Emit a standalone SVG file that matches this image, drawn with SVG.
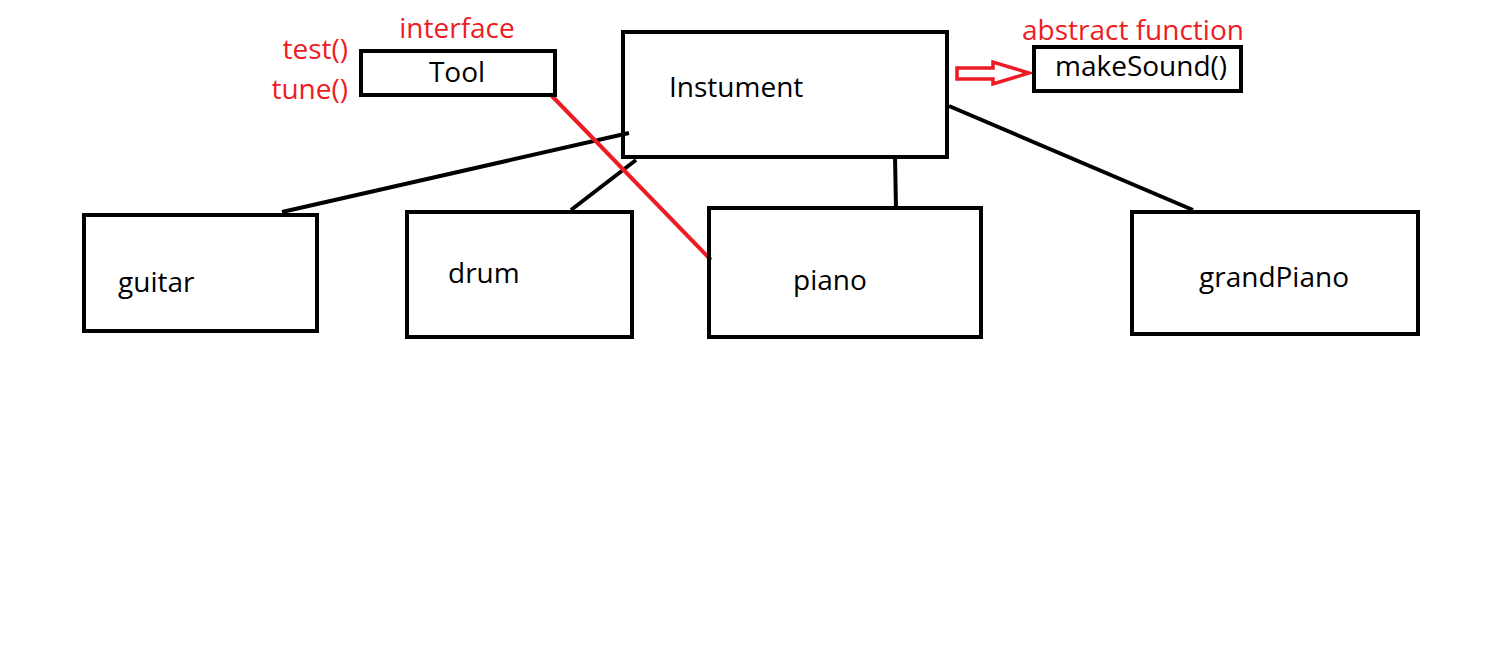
<svg xmlns="http://www.w3.org/2000/svg" width="1488" height="651" viewBox="0 0 1488 651">
<style>
.box{fill:none;stroke:#000;stroke-width:4}
.t{font-family:"Open Sans","Noto Sans",sans-serif;font-size:28px;fill:#000}
.r{fill:#ed1c24}
.ln{stroke:#000;stroke-width:4;fill:none}
</style>
<rect width="1488" height="651" fill="#fff"/>
<g id="connectors">
<line class="ln" x1="282" y1="212" x2="629" y2="133"/>
<line class="ln" x1="571" y1="210" x2="636" y2="160"/>
<line class="ln" x1="895" y1="155" x2="896" y2="209"/>
<line class="ln" x1="949" y1="106" x2="1193" y2="210"/>
<line x1="550" y1="94" x2="711" y2="260" stroke="#ed1c24" stroke-width="4"/>
<polygon points="957,68 993,68 993,62 1029,73 993,84 993,79 957,79" fill="none" stroke="#ed1c24" stroke-width="3.5"/>
</g>
<g id="tool">
<rect class="box" x="361" y="51" width="194" height="44"/>
<text class="t" x="457" y="82" text-anchor="middle">Tool</text>
<text class="t r" x="457" y="38" text-anchor="middle">interface</text>
<text class="t r" x="348" y="59" text-anchor="end">test()</text>
<text class="t r" x="348" y="99" text-anchor="end">tune()</text>
</g>
<g id="instument">
<rect class="box" x="623" y="32" width="324" height="125"/>
<text class="t" x="669" y="97">Instument</text>
</g>
<g id="makesound">
<rect class="box" x="1034" y="47" width="207" height="44"/>
<text class="t" x="1055" y="76">makeSound()</text>
<text class="t r" x="1022" y="40">abstract function</text>
</g>
<g id="guitar">
<rect class="box" x="84" y="215" width="233" height="116"/>
<text class="t" x="118" y="292">guitar</text>
</g>
<g id="drum">
<rect class="box" x="407" y="212" width="225" height="125"/>
<text class="t" x="448" y="283">drum</text>
</g>
<g id="piano">
<rect class="box" x="709" y="208" width="272" height="129"/>
<text class="t" x="793" y="290">piano</text>
</g>
<g id="grandPiano">
<rect class="box" x="1132" y="212" width="286" height="122"/>
<text class="t" x="1199" y="287">grandPiano</text>
</g>
</svg>
